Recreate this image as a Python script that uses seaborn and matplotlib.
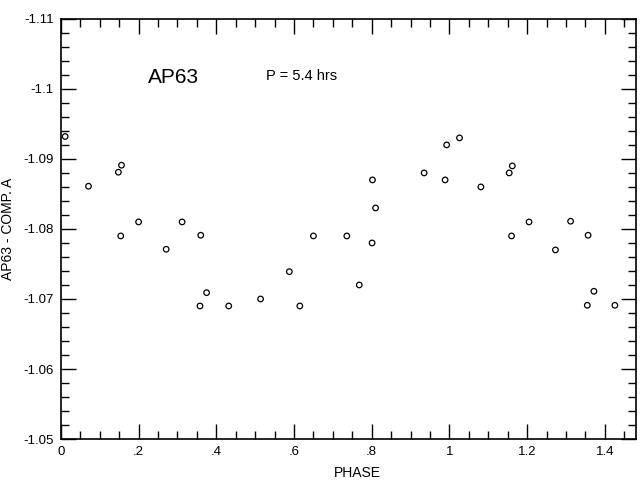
import matplotlib
matplotlib.use("Agg")
import matplotlib.pyplot as plt
from matplotlib.ticker import MultipleLocator, FixedLocator
import seaborn as sns
import pandas as pd

phase = [0.011, 0.071, 0.148, 0.156, 0.154, 0.200, 0.271, 0.312, 0.360, 0.358,
         0.375, 0.432, 0.514, 0.588, 0.615, 0.650, 0.736, 0.802, 0.810, 0.801,
         0.768, 0.935, 0.993, 0.989, 1.026, 1.081, 1.154, 1.162, 1.160, 1.205,
         1.273, 1.312, 1.357, 1.355, 1.372, 1.426]
mag = [-1.0932, -1.0861, -1.0881, -1.0891, -1.0790, -1.0810, -1.0771, -1.0810,
       -1.0791, -1.0690, -1.0709, -1.0690, -1.0700, -1.0739, -1.0690, -1.0790,
       -1.0790, -1.0870, -1.0830, -1.0780, -1.0720, -1.0880, -1.0920, -1.0870,
       -1.0930, -1.0860, -1.0880, -1.0890, -1.0790, -1.0810, -1.0770, -1.0811,
       -1.0791, -1.0691, -1.0711, -1.0691]

x_ticks = [0, 0.2, 0.4, 0.6, 0.8, 1.0, 1.2, 1.4]
x_labels = ["0", ".2", ".4", ".6", ".8", "1", "1.2", "1.4"]
y_ticks = [-1.11, -1.10, -1.09, -1.08, -1.07, -1.06, -1.05]
y_labels = ["-1.11", "-1.1", "-1.09", "-1.08", "-1.07", "-1.06", "-1.05"]

df = pd.DataFrame({"phase": phase, "mag": mag})

sns.set_style("ticks")
plt.rcParams["font.family"] = ["Liberation Sans", "DejaVu Sans"]
plt.rcParams["text.color"] = "black"
plt.rcParams["axes.labelcolor"] = "black"
plt.rcParams["xtick.color"] = "black"
plt.rcParams["ytick.color"] = "black"

fig = plt.figure(figsize=(6.41, 4.83), dpi=100)
ax = fig.add_axes([0.095, 0.091, 0.897, 0.870])

sns.scatterplot(data=df, x="phase", y="mag", ax=ax, marker="o", s=16,
                facecolor="none", edgecolor="black", linewidth=0.9,
                clip_on=False, zorder=3)

ax.set_xlim(0, 1.48)
ax.set_ylim(-1.05, -1.11)

ax.xaxis.set_major_locator(FixedLocator(x_ticks))
ax.set_xticklabels(x_labels)
ax.xaxis.set_minor_locator(MultipleLocator(0.05))
ax.yaxis.set_major_locator(FixedLocator(y_ticks))
ax.set_yticklabels(y_labels)
ax.yaxis.set_minor_locator(MultipleLocator(0.002))

ax.tick_params(which="both", direction="in", top=True, right=True,
               colors="black", labelcolor="black", labelsize=9.5, width=1.0)
ax.tick_params(which="major", length=11, pad=5)
ax.tick_params(which="minor", length=5.5)

for s in ax.spines.values():
    s.set_linewidth(1.2)
    s.set_color("black")

ax.set_xlabel("PHASE", fontsize=10, labelpad=3, color="black")
ax.xaxis.set_label_coords(0.515, -0.065)
ax.set_ylabel("AP63 - COMP. A", fontsize=10, labelpad=6, color="black")

ax.text(0.29, -1.1016, "AP63", fontsize=15, ha="center", va="center", color="black")
ax.text(0.62, -1.1019, "P = 5.4 hrs", fontsize=10.5, ha="center", va="center", color="black")

fig.savefig("out.png", dpi=100)
